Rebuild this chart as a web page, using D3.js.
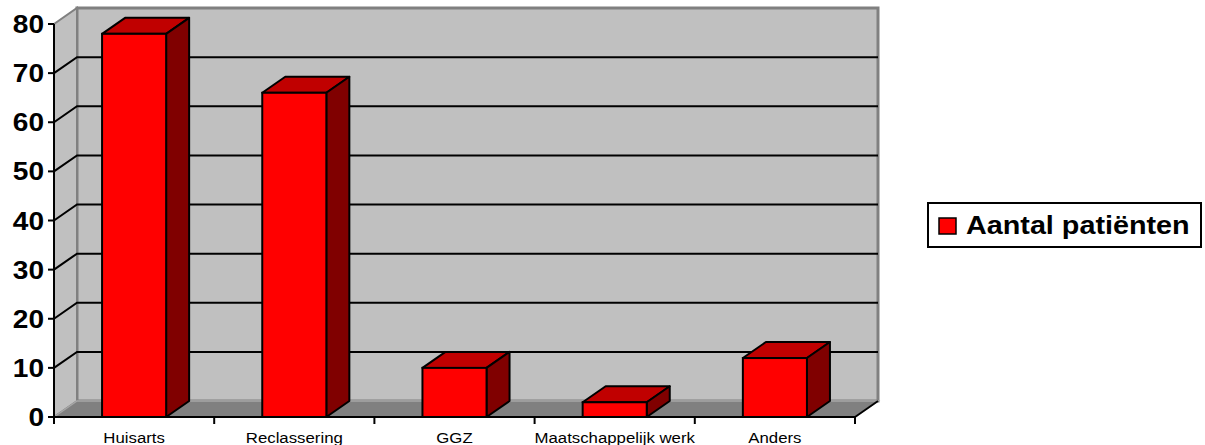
<!DOCTYPE html>
<html>
<head>
<meta charset="utf-8">
<script src="https://cdn.jsdelivr.net/npm/d3@7"></script>
<style>
  html, body { margin: 0; padding: 0; background: #ffffff; }
  svg { display: block; }
  text { font-family: "Liberation Sans", Arial, sans-serif; }
</style>
</head>
<body>
<svg id="chart" width="1205" height="445"></svg>
<script>
// Referral sources and number of patients
const categories = ["Huisarts", "Reclassering", "GGZ", "Maatschappelijk werk", "Anders"];
const patients = [78, 66, 10, 3, 12];
const seriesName = "Aantal patiënten";
const yTicks = [0, 10, 20, 30, 40, 50, 60, 70, 80];

(function () {
  const svg = d3.select("#chart");

  // Plot frame: front plane and depth offset of the 3D box
  const plotLeft = 54, plotRight = 855, plotBottom = 417, plotTop = 24;
  const dx = 23, dy = -16;

  const x = d3.scaleBand().domain(categories).range([plotLeft, plotRight])
    .paddingInner(0.6).paddingOuter(0.3);
  const edge = d3.scaleLinear().domain([0, categories.length]).range([plotLeft, plotRight]);
  const y = d3.scaleLinear().domain([0, 80]).range([plotBottom, plotTop]);

  const poly = pts => "M" + pts.map(p => p.join(",")).join("L") + "Z";

  // Back wall
  svg.append("path")
    .attr("d", poly([[plotLeft + dx, y(80) + dy], [plotRight + dx, y(80) + dy], [plotRight + dx, y(0) + dy], [plotLeft + dx, y(0) + dy]]))
    .attr("fill", "#c0c0c0").attr("stroke", "#808080").attr("stroke-width", 3);

  // Side wall
  svg.append("path")
    .attr("d", poly([[plotLeft, y(80)], [plotLeft + dx, y(80) + dy], [plotLeft + dx, y(0) + dy], [plotLeft, y(0)]]))
    .attr("fill", "#c0c0c0").attr("stroke", "#808080").attr("stroke-width", 2);

  // Floor
  svg.append("path")
    .attr("d", poly([[plotLeft, y(0)], [plotLeft + dx, y(0) + dy], [plotRight + dx, y(0) + dy], [plotRight, y(0)]]))
    .attr("fill", "#808080").attr("stroke", "#a6a6a6").attr("stroke-width", 1.5);

  // Gridlines on back and side walls
  const inner = yTicks.filter(t => t > 0 && t < 80);
  svg.append("g").selectAll("path").data(inner).join("path")
    .attr("d", t => `M${plotLeft},${y(t)}L${plotLeft + dx},${y(t) + dy}L${plotRight + dx},${y(t) + dy}`)
    .attr("fill", "none").attr("stroke", "#000").attr("stroke-width", 2);

  // Floor front-right edge
  svg.append("line")
    .attr("x1", plotRight).attr("y1", y(0)).attr("x2", plotRight + dx).attr("y2", y(0) + dy)
    .attr("stroke", "#000").attr("stroke-width", 2);

  // Bars
  const bw = x.bandwidth();
  const bars = svg.append("g").selectAll("g").data(categories).join("g");
  bars.append("path") // top face
    .attr("d", (c, i) => {
      const x0 = x(c), yt = y(patients[i]);
      return poly([[x0, yt], [x0 + dx, yt + dy], [x0 + bw + dx, yt + dy], [x0 + bw, yt]]);
    })
    .attr("fill", "#c00000").attr("stroke", "#000").attr("stroke-width", 2).attr("stroke-linejoin", "round");
  bars.append("path") // side face
    .attr("d", (c, i) => {
      const x1 = x(c) + bw, yt = y(patients[i]);
      return poly([[x1, yt], [x1 + dx, yt + dy], [x1 + dx, y(0) + dy], [x1, y(0)]]);
    })
    .attr("fill", "#800000").attr("stroke", "#000").attr("stroke-width", 2).attr("stroke-linejoin", "round");
  bars.append("rect") // front face
    .attr("x", c => x(c))
    .attr("y", (c, i) => y(patients[i]))
    .attr("width", bw)
    .attr("height", (c, i) => y(0) - y(patients[i]))
    .attr("fill", "#ff0000").attr("stroke", "#000").attr("stroke-width", 2);

  // Y axis
  svg.append("line")
    .attr("x1", plotLeft).attr("y1", y(80)).attr("x2", plotLeft).attr("y2", y(0))
    .attr("stroke", "#000").attr("stroke-width", 2);
  svg.append("g").selectAll("line").data(yTicks).join("line")
    .attr("x1", plotLeft - 6).attr("x2", plotLeft).attr("y1", t => y(t)).attr("y2", t => y(t))
    .attr("stroke", "#000").attr("stroke-width", 2);
  svg.append("g").selectAll("text").data(yTicks).join("text")
    .attr("transform", t => `translate(${plotLeft - 10},${y(t) + 9}) scale(1.08,1)`)
    .attr("text-anchor", "end")
    .attr("font-size", 26).attr("font-weight", "bold").attr("fill", "#000")
    .text(t => t);

  // X axis
  svg.append("line")
    .attr("x1", plotLeft).attr("y1", y(0)).attr("x2", plotRight).attr("y2", y(0))
    .attr("stroke", "#000").attr("stroke-width", 2);
  svg.append("g").selectAll("line").data(d3.range(categories.length + 1)).join("line")
    .attr("x1", i => edge(i)).attr("x2", i => edge(i)).attr("y1", y(0)).attr("y2", y(0) + 7)
    .attr("stroke", "#000").attr("stroke-width", 2);
  svg.append("g").selectAll("text").data(categories).join("text")
    .attr("transform", c => `translate(${x(c) + bw / 2},443) scale(1.12,1)`)
    .attr("text-anchor", "middle")
    .attr("font-size", 15).attr("fill", "#000")
    .text(c => c);

  // Legend
  const lg = svg.append("g");
  lg.append("rect").attr("x", 928).attr("y", 203).attr("width", 273).attr("height", 44)
    .attr("fill", "#fff").attr("stroke", "#000").attr("stroke-width", 2);
  lg.append("rect").attr("x", 939).attr("y", 218).attr("width", 17).attr("height", 16)
    .attr("fill", "#ff0000").attr("stroke", "#000").attr("stroke-width", 1.5);
  lg.append("text")
    .attr("transform", "translate(966,234) scale(1.15,1)")
    .attr("font-size", 25).attr("font-weight", "bold").attr("fill", "#000")
    .text(seriesName);
})();
</script>
</body>
</html>
